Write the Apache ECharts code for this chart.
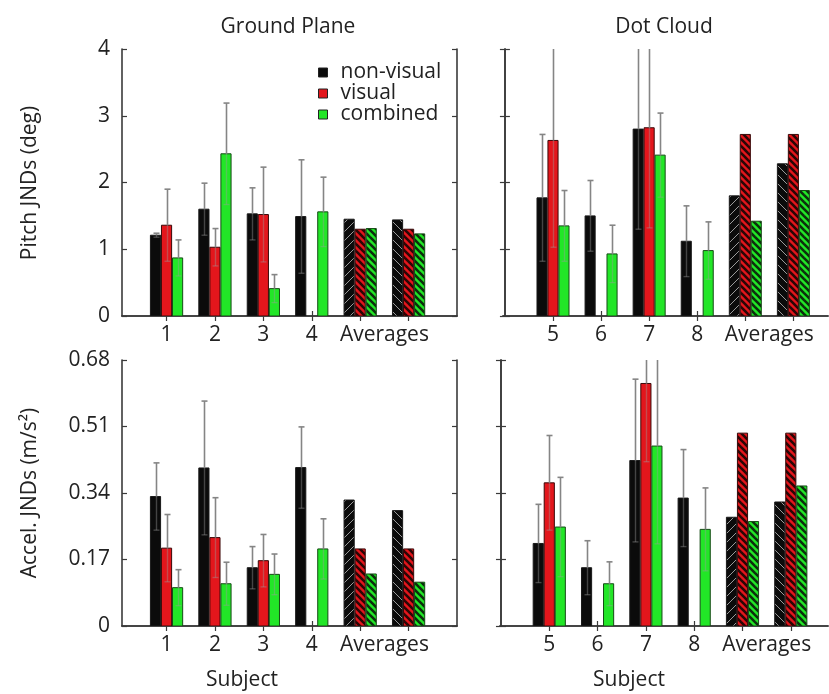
<!DOCTYPE html>
<html>
<head>
<meta charset="utf-8">
<script src="https://cdn.jsdelivr.net/npm/echarts@6/dist/echarts.min.js"></script>
<style>
html,body{margin:0;padding:0;background:#fff;}
#chart{width:829px;height:694px;}
</style>
</head>
<body>
<div id="chart"></div>
<script>
// ---------------- data ----------------
const conditions = ['non-visual', 'visual', 'combined'];
const groupPositions = [1, 2, 3, 4, 5, 6];          // last two = averages
const labelPositions = [1, 2, 3, 4, 5.5];
const xLabelsGround = ['1', '2', '3', '4', 'Averages'];
const xLabelsDot = ['5', '6', '7', '8', 'Averages'];
const panelTitles = ['Ground Plane', 'Dot Cloud'];
const pitchTicks = [0, 1, 2, 3, 4];
const accelTicks = [0, 0.17, 0.34, 0.51, 0.68];

// Pitch JNDs (deg), Ground Plane
const pitchGroundNonVisual = [1.21, 1.60, 1.53, 1.49, 1.45, 1.44];
const pitchGroundVisual    = [1.36, 1.03, 1.52, null, 1.30, 1.30];
const pitchGroundCombined  = [0.87, 2.43, 0.41, 1.56, 1.31, 1.23];
const pitchGroundNonVisualErr = [0.03, 0.39, 0.39, 0.85, 0, 0];
const pitchGroundVisualErr    = [0.54, 0.28, 0.71, null, 0, 0];
const pitchGroundCombinedErr  = [0.27, 0.76, 0.21, 0.52, 0, 0];

// Pitch JNDs (deg), Dot Cloud
const pitchDotNonVisual = [1.77, 1.50, 2.80, 1.12, 1.80, 2.28];
const pitchDotVisual    = [2.63, null, 2.82, null, 2.72, 2.72];
const pitchDotCombined  = [1.35, 0.93, 2.41, 0.98, 1.42, 1.88];
const pitchDotNonVisualErr = [0.95, 0.53, 1.50, 0.53, 0, 0];
const pitchDotVisualErr    = [1.60, null, 1.50, null, 0, 0];
const pitchDotCombinedErr  = [0.53, 0.43, 0.63, 0.43, 0, 0];

// Accel. JNDs (m/s^2), Ground Plane
const accelGroundNonVisual = [0.331, 0.404, 0.149, 0.405, 0.322, 0.295];
const accelGroundVisual    = [0.199, 0.226, 0.167, null, 0.197, 0.197];
const accelGroundCombined  = [0.098, 0.108, 0.132, 0.197, 0.133, 0.112];
const accelGroundNonVisualErr = [0.086, 0.171, 0.054, 0.104, 0, 0];
const accelGroundVisualErr    = [0.086, 0.102, 0.067, null, 0, 0];
const accelGroundCombinedErr  = [0.046, 0.055, 0.052, 0.077, 0, 0];

// Accel. JNDs (m/s^2), Dot Cloud
const accelDotNonVisual = [0.211, 0.149, 0.423, 0.327, 0.278, 0.317];
const accelDotVisual    = [0.366, null, 0.620, null, 0.493, 0.493];
const accelDotCombined  = [0.253, 0.108, 0.460, 0.247, 0.267, 0.358];
const accelDotNonVisualErr = [0.100, 0.069, 0.208, 0.124, 0, 0];
const accelDotVisualErr    = [0.121, null, 0.200, null, 0, 0];
const accelDotCombinedErr  = [0.127, 0.056, 0.250, 0.106, 0, 0];

// ---------------- styling ----------------
const FONT = '"Open Sans", "DejaVu Sans", sans-serif';
const TXT = '#222';
const AXIS = '#3a3a3a';
const BAR_W = 0.21;
const BAR_STEP = 0.228;
const fills = ['#0b0b0b', '#e3161c', '#22e627'];
const strokes = ['#1a1a1a', '#3a0808', '#154a15'];

function hatch(bg, line, lw, s, dir) {
  const c = document.createElement('canvas');
  c.width = s; c.height = s;
  const g = c.getContext('2d');
  g.fillStyle = bg; g.fillRect(0, 0, s, s);
  g.strokeStyle = line; g.lineWidth = lw;
  for (let k = -s; k <= s; k += s) {
    g.beginPath();
    if (dir === '/') { g.moveTo(k - 1, s + 1); g.lineTo(k + s + 1, -1); }
    else { g.moveTo(k - 1, -1); g.lineTo(k + s + 1, s + 1); }
    g.stroke();
  }
  return { image: c, repeat: 'repeat' };
}
const hatchFills = [
  [hatch('#0b0b0b', '#9a9a9a', 1, 9, '/'), hatch('#e3161c', '#2a0606', 2.6, 7, '\\'), hatch('#22e627', '#0d2e0d', 2.6, 7, '\\')],
  [hatch('#0b0b0b', '#9a9a9a', 1, 9, '\\'), hatch('#e3161c', '#2a0606', 2.6, 7, '\\'), hatch('#22e627', '#0d2e0d', 2.6, 7, '\\')]
];

const panels = [
  { grid: { left: 122, top: 49, width: 335, height: 267 }, xr: [0.08, 7.0], ticks: pitchTicks, xl: xLabelsGround, yLabels: true,
    vals: [pitchGroundNonVisual, pitchGroundVisual, pitchGroundCombined], errs: [pitchGroundNonVisualErr, pitchGroundVisualErr, pitchGroundCombinedErr] },
  { grid: { left: 503, top: 49, width: 325, height: 267 }, xr: [-0.04, 6.72], ticks: pitchTicks, xl: xLabelsDot, yLabels: false,
    vals: [pitchDotNonVisual, pitchDotVisual, pitchDotCombined], errs: [pitchDotNonVisualErr, pitchDotVisualErr, pitchDotCombinedErr] },
  { grid: { left: 122, top: 360, width: 335, height: 266 }, xr: [0.08, 7.0], ticks: accelTicks, xl: xLabelsGround, yLabels: true,
    vals: [accelGroundNonVisual, accelGroundVisual, accelGroundCombined], errs: [accelGroundNonVisualErr, accelGroundVisualErr, accelGroundCombinedErr] },
  { grid: { left: 500, top: 360, width: 328, height: 266 }, xr: [-0.02, 6.77], ticks: accelTicks, xl: xLabelsDot, yLabels: false,
    vals: [accelDotNonVisual, accelDotVisual, accelDotCombined], errs: [accelDotNonVisualErr, accelDotVisualErr, accelDotCombinedErr] }
];

const grids = [], xAxes = [], yAxes = [], series = [];
panels.forEach((p, pi) => {
  grids.push(Object.assign({ containLabel: false }, p.grid));
  const tickCommon = { show: true, inside: true, length: 5, lineStyle: { color: AXIS, width: 1.2 } };
  const lineCommon = { show: true, lineStyle: { color: AXIS, width: 1.6 } };
  xAxes.push({
    type: 'value', gridIndex: pi, position: 'bottom', min: p.xr[0], max: p.xr[1],
    axisLine: lineCommon, splitLine: { show: false },
    axisTick: Object.assign({ customValues: groupPositions }, tickCommon),
    axisLabel: { customValues: labelPositions, margin: 9, color: TXT, fontSize: 21, fontFamily: FONT,
      formatter: v => p.xl[labelPositions.indexOf(v)] }
  });
  xAxes.push({
    type: 'value', gridIndex: pi, position: 'top', min: p.xr[0], max: p.xr[1],
    axisLine: lineCommon, splitLine: { show: false },
    axisTick: Object.assign({ customValues: groupPositions }, tickCommon),
    axisLabel: { show: false }
  });
  const ymax = p.ticks[p.ticks.length - 1];
  yAxes.push({
    type: 'value', gridIndex: pi, position: 'left', min: 0, max: ymax,
    axisLine: lineCommon, splitLine: { show: false },
    axisTick: Object.assign({ customValues: p.ticks }, tickCommon),
    axisLabel: { show: p.yLabels, customValues: p.ticks, margin: 12, color: TXT, fontSize: 21, fontFamily: FONT,
      formatter: v => (v === 0 ? '0' : (ymax < 1 ? v.toFixed(2) : String(v))) }
  });
  yAxes.push({
    type: 'value', gridIndex: pi, position: 'right', min: 0, max: ymax,
    axisLine: lineCommon, splitLine: { show: false },
    axisTick: Object.assign({ customValues: p.ticks }, tickCommon),
    axisLabel: { show: false }
  });

  conditions.forEach((name, ci) => {
    const data = [];
    groupPositions.forEach((g, gi) => {
      const v = p.vals[ci][gi];
      if (v == null) return;
      const e = p.errs[ci][gi] || 0;
      data.push([g + (ci - 1) * BAR_STEP, v, e, gi >= 4 ? gi - 4 : -1]);
    });
    series.push({
      type: 'custom', name: name, xAxisIndex: pi * 2, yAxisIndex: pi * 2, clip: true,
      itemStyle: { color: fills[ci], borderColor: strokes[ci] },
      encode: { x: 0, y: 1 },
      data: data,
      renderItem: function (params, api) {
        const x = api.value(0), v = api.value(1), e = api.value(2), h = api.value(3);
        const base = api.coord([x, 0]);
        const top = api.coord([x, v]);
        const w = api.size([BAR_W, 0])[0];
        const fill = h >= 0 ? hatchFills[h][ci] : fills[ci];
        const children = [{
          type: 'rect',
          shape: { x: top[0] - w / 2, y: top[1], width: w, height: base[1] - top[1] },
          style: { fill: fill, stroke: strokes[ci], lineWidth: 1 }
        }];
        if (e > 0) {
          const hi = api.coord([x, v + e]);
          const lo = api.coord([x, Math.max(0, v - e)]);
          const cx = Math.round(top[0]) + 0.5;
          const cw = 3;
          children.push({ type: 'line', shape: { x1: cx, y1: top[1], x2: cx, y2: hi[1] }, style: { stroke: '#858585', lineWidth: 1.6 } });
          children.push({ type: 'line', shape: { x1: cx - cw, y1: hi[1], x2: cx + cw, y2: hi[1] }, style: { stroke: '#858585', lineWidth: 1.6 } });
          children.push({ type: 'line', shape: { x1: cx, y1: top[1], x2: cx, y2: lo[1] }, style: { stroke: '#9a9a9a', lineWidth: 1.4, opacity: 0.4 } });
          children.push({ type: 'line', shape: { x1: cx - cw, y1: lo[1], x2: cx + cw, y2: lo[1] }, style: { stroke: '#9a9a9a', lineWidth: 1.4, opacity: 0.4 } });
        }
        return { type: 'group', children: children };
      }
    });
  });
});

const textStyle = (t, x, y, rot) => ({
  type: 'text', x: x, y: y, rotation: rot || 0,
  style: { text: t, fill: TXT, font: '21px ' + FONT, align: 'center', verticalAlign: 'middle' },
  silent: true
});

const option = {
  backgroundColor: '#fff',
  animation: false,
  grid: grids,
  xAxis: xAxes,
  yAxis: yAxes,
  series: series,
  legend: {
    data: conditions.map(n => ({ name: n, icon: 'rect' })),
    orient: 'vertical', left: 313, top: 57,
    itemWidth: 9, itemHeight: 9, itemGap: 0,
    itemStyle: { borderColor: '#222', borderWidth: 1 },
    textStyle: { color: TXT, fontSize: 21, fontFamily: FONT, lineHeight: 20, padding: [0, 0, 0, 8] },
    selectedMode: false
  },
  graphic: [
    textStyle(panelTitles[0], 288, 27),
    textStyle(panelTitles[1], 664, 27),
    textStyle('Subject', 242, 680),
    textStyle('Subject', 629, 680),
    textStyle('Pitch JNDs (deg)', 30, 183, Math.PI / 2),
    textStyle('Accel. JNDs (m/s\u00B2)', 30, 493, Math.PI / 2)
  ]
};

const chart = echarts.init(document.getElementById('chart'), null, { renderer: 'canvas' });
chart.setOption(option);
</script>
</body>
</html>
